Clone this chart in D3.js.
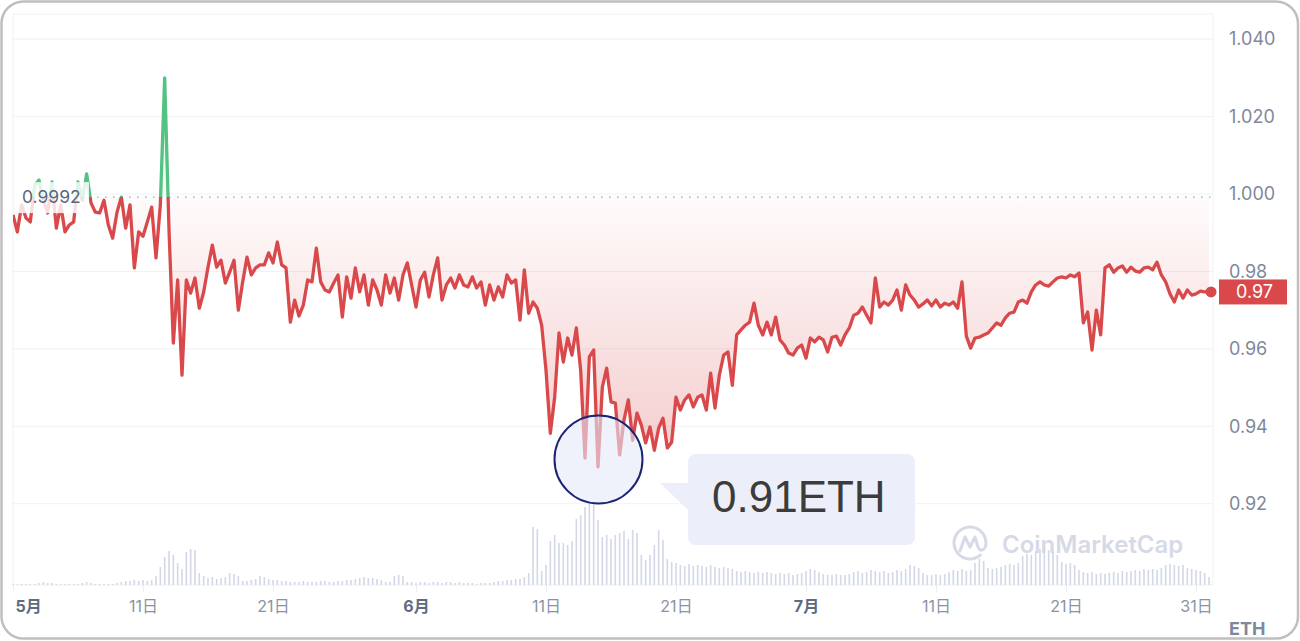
<!DOCTYPE html>
<html><head><meta charset="utf-8">
<script src="https://cdn.jsdelivr.net/npm/d3@7"></script>
<style>body{margin:0;background:#fff;} svg{display:block;font-family:Inter,"Noto Sans CJK JP",sans-serif;}</style>
</head><body><svg id="c" width="1300" height="641"></svg>
<script>
// ---- data ----
const startTime = "2024-05-01T00:00";
const stepHours = 8;
const prices = [
0.9946,0.9902,0.9972, 0.9938,0.9928,1.0023, 1.0036,0.9984,0.9951, 1.0031,0.9912,0.9972,
0.9902,0.9920,0.9928, 1.0031,0.9984,1.0052, 0.9977,0.9953,0.9951, 0.9984,0.9920,0.9886,
0.9953,0.9992,0.9912, 0.9972,0.9809,0.9902, 0.9891,0.9928,0.9966, 0.9835,0.9972,1.0300,
0.9907,0.9615,0.9778, 0.9532,0.9778,0.9744, 0.9783,0.9705,0.9747, 0.9811,0.9868,0.9811,
0.9829,0.9770,0.9798, 0.9829,0.9700,0.9773, 0.9837,0.9791,0.9809, 0.9817,0.9817,0.9848,
0.9822,0.9876,0.9817, 0.9809,0.9669,0.9726, 0.9685,0.9713,0.9778, 0.9773,0.9860,0.9773,
0.9752,0.9747,0.9770, 0.9791,0.9682,0.9786, 0.9731,0.9809,0.9747, 0.9791,0.9713,0.9778,
0.9752,0.9713,0.9791, 0.9744,0.9783,0.9726, 0.9791,0.9822,0.9765, 0.9708,0.9778,0.9798,
0.9734,0.9791,0.9835, 0.9726,0.9765,0.9783, 0.9757,0.9791,0.9765, 0.9760,0.9786,0.9757,
0.9773,0.9713,0.9765, 0.9726,0.9760,0.9734, 0.9791,0.9770,0.9778, 0.9674,0.9804,0.9692,
0.9721,0.9705,0.9661, 0.9545,0.9382,0.9475, 0.9641,0.9566,0.9628, 0.9584,0.9654,0.9545,
0.9318,0.9579,0.9597, 0.9295,0.9501,0.9550, 0.9463,0.9460,0.9326, 0.9416,0.9468,0.9364,
0.9434,0.9403,0.9357, 0.9398,0.9338,0.9395, 0.9421,0.9344,0.9359, 0.9475,0.9442,0.9468,
0.9481,0.9450,0.9475, 0.9481,0.9442,0.9537, 0.9447,0.9532,0.9584, 0.9592,0.9506,0.9636,
0.9649,0.9661,0.9669, 0.9718,0.9661,0.9636, 0.9669,0.9636,0.9682, 0.9623,0.9610,0.9589,
0.9584,0.9602,0.9610, 0.9576,0.9628,0.9618, 0.9630,0.9623,0.9592, 0.9630,0.9633,0.9610,
0.9636,0.9654,0.9687, 0.9692,0.9708,0.9687, 0.9667,0.9783,0.9708, 0.9721,0.9713,0.9726,
0.9752,0.9700,0.9765, 0.9739,0.9726,0.9708, 0.9716,0.9726,0.9711, 0.9726,0.9708,0.9718,
0.9713,0.9721,0.9705, 0.9773,0.9633,0.9602, 0.9628,0.9630,0.9636, 0.9641,0.9654,0.9667,
0.9661,0.9680,0.9692, 0.9695,0.9721,0.9726, 0.9718,0.9747,0.9765, 0.9773,0.9765,0.9762,
0.9773,0.9783,0.9786, 0.9783,0.9791,0.9786, 0.9796,0.9667,0.9695, 0.9597,0.9700,0.9636,
0.9809,0.9817,0.9798, 0.9809,0.9814,0.9798, 0.9811,0.9801,0.9798, 0.9809,0.9811,0.9804,
0.9824,0.9791,0.9773, 0.9742,0.9721,0.9752, 0.9731,0.9752,0.9739, 0.9742,0.9749,0.9747,
0.9747
];
const volumes = [
1,1,1, 1,1,1, 2,3,2, 2,1,1, 1,1,1, 1,2,3, 2,1,1, 1,1,1, 2,3,4, 4,5,4, 5,4,5, 9,18,28,
34,30,22, 16,33,36, 35,12,9, 7,8,6, 7,8,12, 11,9,4, 4,5,6, 9,8,6, 5,5,4, 4,3,3,
3,4,3, 3,3,4, 4,3,3, 4,4,5, 5,6,7, 8,7,7, 6,5,3, 3,9,10, 9,3,3, 2,3,3,
2,3,3, 2,3,3, 2,3,2, 2,2,1, 2,2,2, 3,4,4, 5,5,6, 6,8,12, 58,56,14, 20,44,50,
42,42,40, 44,66,70, 78,84,80, 65,48,50, 46,50,52, 54,46,55, 52,30,25, 30,40,55, 45,26,23, 22,20,19,
21,19,20, 19,18,20, 18,17,18, 17,16,14, 13,14,13, 12,13,12, 13,12,11, 12,11,12, 10,11,12, 14,16,15,
13,11,10, 10,11,10, 10,11,13, 14,12,13, 15,14,13, 14,12,13, 15,14,16, 20,19,17, 12,10,10, 11,10,11,
13,15,14, 16,14,15, 22,26,24, 17,16,17, 18,20,21, 20,22,29, 31,30,34, 36,38,35, 33,30,23, 21,22,20,
15,13,12, 13,11,12, 11,12,13, 12,14,13, 14,15,14, 16,15,16, 15,17,20, 21,20,19, 20,17,16, 15,14,12,
8
];
const baselinePrice = 0.9992;
const baselineLabel = "0.9992";
const lastPriceLabel = "0.97";
const yTickValues = [1.04, 1.02, 1.00, 0.98, 0.96, 0.94, 0.92];
const yTickLabels = ["1.040", "1.020", "1.000", "0.98", "0.96", "0.94", "0.92"];
const xTickDates = ["2024-05-01","2024-05-11","2024-05-21","2024-06-01","2024-06-11","2024-06-21","2024-07-01","2024-07-11","2024-07-21","2024-07-31"];
const xTickLabels = ["5月","11日","21日","6月","11日","21日","7月","11日","21日","31日"];
const calloutText = "0.91ETH";
const unitLabel = "ETH";
const watermark = "CoinMarketCap";

// ---- setup ----
const svg = d3.select("#c");
const parseT = d3.timeParse("%Y-%m-%dT%H:%M");
const parseD = d3.timeParse("%Y-%m-%d");
const t0 = parseT(startTime);
const data = prices.map((p, i) => ({ t: d3.timeHour.offset(t0, i * stepHours), p, v: volumes[i] }));

const L = 13, R = 1213, T = 14, B = 585;
const x = d3.scaleTime().domain([t0, parseD("2024-08-01")]).range([L, 1209]);
const y = d3.scaleLinear().domain([0.899, 1.0465]).range([B, T]);
const yv = d3.scaleLinear().domain([0, 88]).range([B, B - 88]);

const RED = "#d9494b", GREEN = "#54c283";

const defs = svg.append("defs");
defs.append("clipPath").attr("id", "plot").append("rect").attr("x", L).attr("y", T).attr("width", R - L).attr("height", B - T);
defs.append("clipPath").attr("id", "above").append("rect").attr("x", L).attr("y", T - 80).attr("width", R - L).attr("height", y(baselinePrice) - T + 80);
defs.append("clipPath").attr("id", "below").append("rect").attr("x", L).attr("y", y(baselinePrice)).attr("width", R - L + 10).attr("height", B - y(baselinePrice));

const gr = defs.append("linearGradient").attr("id", "gRed").attr("gradientUnits", "userSpaceOnUse")
  .attr("x1", 0).attr("x2", 0).attr("y1", y(baselinePrice)).attr("y2", y(0.93));
gr.append("stop").attr("offset", 0).attr("stop-color", RED).attr("stop-opacity", 0.02);
gr.append("stop").attr("offset", 1).attr("stop-color", RED).attr("stop-opacity", 0.28);
const gg = defs.append("linearGradient").attr("id", "gGreen").attr("gradientUnits", "userSpaceOnUse")
  .attr("x1", 0).attr("x2", 0).attr("y1", y(baselinePrice)).attr("y2", y(1.03));
gg.append("stop").attr("offset", 0).attr("stop-color", GREEN).attr("stop-opacity", 0.03);
gg.append("stop").attr("offset", 1).attr("stop-color", GREEN).attr("stop-opacity", 0.25);

// frame
svg.append("rect").attr("x", 1.5).attr("y", 1.5).attr("width", 1296.5).attr("height", 637)
  .attr("rx", 22).attr("fill", "#fff").attr("stroke", "#bfbfbf").attr("stroke-width", 2.5);

// grid
const grid = svg.append("g");
grid.selectAll("line.h").data(yTickValues).join("line")
  .attr("x1", L).attr("x2", R).attr("y1", d => y(d)).attr("y2", d => y(d))
  .attr("stroke", "#eff1f5").attr("stroke-width", 1);
grid.append("rect").attr("x", L).attr("y", T).attr("width", R - L).attr("height", B - T)
  .attr("fill", "none").attr("stroke", "#eff1f5").attr("stroke-width", 1);

// watermark
const wm = svg.append("g").attr("transform", "translate(970,543)");
wm.append("path").attr("d", d3.arc()({ innerRadius: 14.5, outerRadius: 17.5, startAngle: 0.75 * Math.PI, endAngle: 2.6 * Math.PI }))
  .attr("fill", "#d6dae6");
wm.append("path").attr("d", "M-10,8 L-5,-6 L0,4 L5,-6 L8,4 Q10,9 14,6")
  .attr("fill", "none").attr("stroke", "#d6dae6").attr("stroke-width", 3).attr("stroke-linejoin", "round").attr("stroke-linecap", "round");
svg.append("text").attr("x", 1002).attr("y", 553).attr("font-size", 24).attr("font-weight", 600)
  .attr("fill", "#d6dae6").text(watermark);

// volume bars
svg.append("g").selectAll("rect").data(data).join("rect")
  .attr("x", d => x(d.t) - 0.8).attr("width", 1.6)
  .attr("y", d => yv(d.v)).attr("height", d => B - yv(d.v))
  .attr("fill", "#d3d7e6");

// fills
const area = d3.area().x(d => x(d.t)).y0(y(baselinePrice)).y1(d => y(d.p));
const plotG = svg.append("g").attr("clip-path", "url(#plot)");
plotG.append("g").attr("clip-path", "url(#below)").append("path").datum(data).attr("d", area).attr("fill", "url(#gRed)");
plotG.append("g").attr("clip-path", "url(#above)").append("path").datum(data).attr("d", area).attr("fill", "url(#gGreen)");

// baseline dotted
svg.append("line").attr("x1", L + 60).attr("x2", R).attr("y1", y(baselinePrice)).attr("y2", y(baselinePrice))
  .attr("stroke", "#9aa2b3").attr("stroke-width", 1.3).attr("stroke-dasharray", "1.5,6.5");

// lines
const line = d3.line().x(d => x(d.t)).y(d => y(d.p));
svg.append("g").attr("clip-path", "url(#below)").append("path").datum(data).attr("d", line)
  .attr("fill", "none").attr("stroke", RED).attr("stroke-width", 3.3).attr("stroke-linejoin", "round");
svg.append("g").attr("clip-path", "url(#above)").append("path").datum(data).attr("d", line)
  .attr("fill", "none").attr("stroke", GREEN).attr("stroke-width", 3.3).attr("stroke-linejoin", "round");

// baseline label
svg.append("rect").attr("x", L + 1).attr("y", y(baselinePrice) - 15).attr("width", 75).attr("height", 31)
  .attr("fill", "#fff").attr("opacity", 0.82);
svg.append("text").attr("x", 22).attr("y", y(baselinePrice) + 6).attr("font-size", 17.5)
  .attr("fill", "#58667e").text(baselineLabel);

// last point
const last = data[data.length - 1];
svg.append("circle").attr("cx", x(last.t) + 2).attr("cy", y(last.p)).attr("r", 5.5).attr("fill", RED);

// y axis
const yAxis = d3.axisRight(y).tickValues(yTickValues).tickFormat((d, i) => yTickLabels[i]).tickSize(0).tickPadding(0);
const yg = svg.append("g").attr("transform", "translate(1229,0)").call(yAxis);
yg.select(".domain").remove();
yg.selectAll("text").attr("font-size", 18).attr("fill", "#7f889b").attr("font-family", "Inter");

// price tag
svg.append("rect").attr("x", 1219).attr("y", y(last.p) - 12.5).attr("width", 68).attr("height", 25).attr("fill", RED);
svg.append("text").attr("x", 1236).attr("y", y(last.p) + 6.5).attr("font-size", 18).attr("fill", "#fff").text(lastPriceLabel);

// x axis
const xAxis = d3.axisBottom(x).tickValues(xTickDates.map(parseD)).tickFormat((d, i) => xTickLabels[i]).tickSize(7).tickPadding(9);
const xg = svg.append("g").attr("transform", `translate(0,${B})`).call(xAxis);
xg.select(".domain").remove();
xg.selectAll(".tick line").attr("stroke", "#eceef3");
xg.selectAll("text").attr("font-size", 16).attr("font-family", "Inter, 'Noto Sans CJK JP'")
  .attr("fill", (d, i) => xTickLabels[i].endsWith("月") ? "#5f6b80" : "#8a93a6")
  .attr("font-weight", (d, i) => xTickLabels[i].endsWith("月") ? 700 : 400);
xg.select(".tick text").attr("text-anchor", "start").attr("x", 2);

// unit label
svg.append("text").attr("x", 1229).attr("y", 635).attr("font-size", 18).attr("font-weight", 700)
  .attr("fill", "#7f889b").text(unitLabel);

// callout circle
svg.append("circle").attr("cx", 598.5).attr("cy", 459.5).attr("r", 44)
  .attr("fill", "#e6eaf9").attr("fill-opacity", 0.6).attr("stroke", "#1c2571").attr("stroke-width", 2);

// callout box
svg.append("path").attr("d", "M660,483 L690,483 L690,512 Z").attr("fill", "#eceffa");
svg.append("rect").attr("x", 688).attr("y", 454).attr("width", 227).attr("height", 91).attr("rx", 8).attr("fill", "#eceffa");
svg.append("text").attr("x", 712).attr("y", 512).attr("font-size", 44).attr("font-family", "'Liberation Sans', Arial, sans-serif")
  .attr("fill", "#3c3c3c").text(calloutText);
</script></body></html>
